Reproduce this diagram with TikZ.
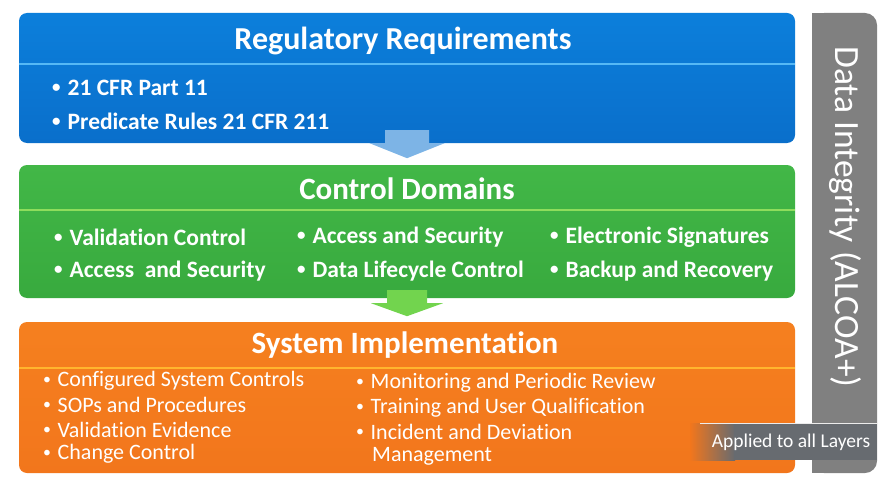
\documentclass[tikz,border=0pt]{standalone}
\usepackage{fontspec}
\setmainfont{Carlito}[RawFeature={-liga}]
\usetikzlibrary{calc,positioning}

\definecolor{regtop}{HTML}{0C7FDB}
\definecolor{regbot}{HTML}{0A6FCB}
\definecolor{regline}{HTML}{55B8F5}
\definecolor{ctltop}{HTML}{42B747}
\definecolor{ctlbot}{HTML}{38AA3E}
\definecolor{ctlline}{HTML}{8EDD5C}
\definecolor{imptop}{HTML}{F5801F}
\definecolor{impbot}{HTML}{F2761C}
\definecolor{impline}{HTML}{FFB52E}
\definecolor{bargray}{HTML}{808080}
\definecolor{tabgray}{HTML}{676B70}
\definecolor{flowblue}{HTML}{7DB4E6}
\definecolor{flowgreen}{HTML}{72D44E}

\newcommand{\bul}{\raisebox{0.12em}{\scalebox{0.72}{\textbullet}}\hspace{0.3em}}

\tikzset{
  layer/.style={rounded corners=8pt, minimum width=776pt, inner sep=0pt},
  title/.style={text=white, font=\bfseries\fontsize{31}{34}\selectfont},
  item/.style={text=white, anchor=west, inner sep=0pt, font=\bfseries\fontsize{23.5}{26}\selectfont},
  step item/.style={text=white, anchor=west, inner sep=0pt, font=\fontsize{22}{24}\selectfont},
  divider/.style={line width=2pt},
}

\begin{document}
\begin{tikzpicture}[x=1pt, y=-1pt]
    \useasboundingbox (0,0) rectangle (891,492);

    % Layers
    \node[layer, top color=regtop, bottom color=regbot, minimum height=130pt] (reg) at (407,78) {};
    \node[layer, top color=ctltop, bottom color=ctlbot, minimum height=133pt] (ctl) at (407,231.5) {};
    \node[layer, top color=imptop, bottom color=impbot, minimum height=151pt] (imp) at (407,397.5) {};

    % Dividers
    \draw[divider, regline] ([yshift=-51pt]reg.north west) -- ([yshift=-51pt]reg.north east);
    \draw[divider, ctlline] ([yshift=-45pt]ctl.north west) -- ([yshift=-45pt]ctl.north east);
    \draw[divider, impline] ([yshift=-46pt]imp.north west) -- ([yshift=-46pt]imp.north east);

    % Flow arrows
    \fill[flowblue] ($(reg.south)+(-22,-13)$) -- ++(44,0) -- ++(0,13) -- ++(15.5,0)
        -- ($(reg.south)+(0,15)$) -- ($(reg.south)+(-37.5,0)$) -- ++(15.5,0) -- cycle;
    \fill[flowgreen] ($(ctl.south)+(-20,-8)$) -- ++(40,0) -- ++(0,13) -- ++(16,0)
        -- ($(ctl.south)+(0,18)$) -- ($(ctl.south)+(-36,5)$) -- ++(16,0) -- cycle;

    % Regulatory Requirements
    \node[title, font=\bfseries\fontsize{32}{35}\selectfont] (regtitle) at (403,41) {Regulatory Requirements};
    \node[item] (reg1) at (52,88) {\bul 21 CFR Part 11};
    \node[item] (reg2) at (52,121) {\bul Predicate Rules 21 CFR 211};

    % Control Domains
    \node[title] (ctltitle) at (407,189) {Control Domains};
    \node[item] (ctl1) at (54,237) {\bul Validation Control};
    \node[item] (ctl2) at (297,237) {\bul Access and Security};
    \node[item] (ctl3) at (550,237) {\bul Electronic Signatures};
    \node[item] (ctl4) at (54,271) {\bul Access\ \ and Security};
    \node[item] (ctl5) at (297,271) {\bul Data Lifecycle Control};
    \node[item] (ctl6) at (550,271) {\bul Backup and Recovery};

    % System Implementation
    \node[title] (imptitle) at (405,345) {System Implementation};
    \node[step item] (imp1) at (43,381) {\bul Configured System Controls};
    \node[step item] (imp2) at (43,405) {\bul SOPs and Procedures};
    \node[step item] (imp3) at (43,430) {\bul Validation Evidence};
    \node[step item] (imp4) at (43,454) {\bul Change Control};
    \node[step item] (imp5) at (356,383) {\bul Monitoring and Periodic Review};
    \node[step item] (imp6) at (356,408) {\bul Training and User Qualification};
    \node[step item] (imp7) at (356,432) {\bul Incident and Deviation};
    \node[step item] (imp8) at (372,456) {Management};

    % Data integrity bar
    \node[fill=bargray, rounded corners=12pt, minimum width=65pt, minimum height=460pt, inner sep=0pt] (bar) at (844.5,243) {};
    \fill[bargray] (bar.north west) rectangle ([xshift=20pt]bar.south west);
    \node[rotate=-90, text=white, font=\fontsize{35.5}{38}\selectfont] (bartext) at (845,217) {Data Integrity (ALCOA+)};

    % Applied tab
    \shade[left color=impbot, right color=tabgray] (690,423) rectangle (735,460);
    \fill[tabgray] (734,423) rectangle (877,460);
    \draw[white!85!gray, line width=1pt] (700,423.5) -- (877,423.5);
    \node[text=white, font=\fontsize{19.5}{22}\selectfont] (applied) at (791,442) {Applied to all Layers};
\end{tikzpicture}
\end{document}
